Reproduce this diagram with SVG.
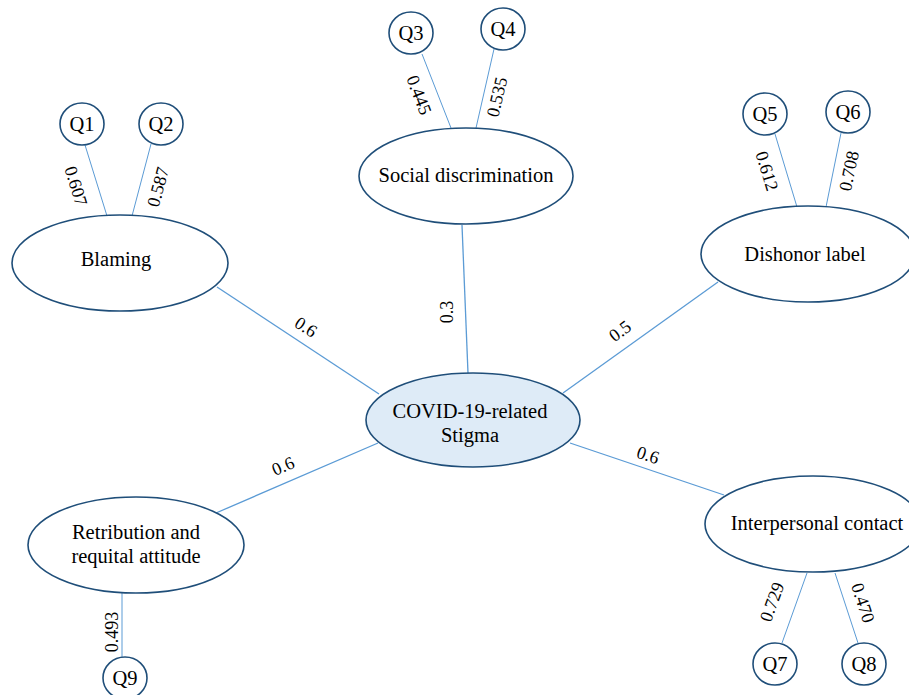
<svg xmlns="http://www.w3.org/2000/svg" width="909" height="695" viewBox="0 0 909 695">
<style>
.node{fill:#fff;stroke:#1f4e79;stroke-width:1.6}
.center{fill:#deebf7;stroke:#1f4e79;stroke-width:1.6}
.q{fill:#fff;stroke:#1f4e79;stroke-width:1.6}
.edge{stroke:#5b9bd5;stroke-width:1.3;fill:none}
.qe{stroke:#5b9bd5;stroke-width:1;fill:none}
text{font-family:"Liberation Serif","Times New Roman",serif;fill:#000}
.lbl{font-size:20.5px;text-anchor:middle}
.num{font-size:18px;text-anchor:middle;dominant-baseline:central}
</style>
<rect width="909" height="695" fill="#fff"/>
<g id="connectors">
<line class="edge" x1="217" y1="287" x2="379" y2="394"/>
<line class="edge" x1="462" y1="225" x2="468" y2="373"/>
<line class="edge" x1="718" y1="282" x2="563" y2="393"/>
<line class="edge" x1="724" y1="495" x2="570" y2="443"/>
<line class="edge" x1="216" y1="513" x2="378" y2="443"/>
<line class="qe" x1="85" y1="145" x2="107" y2="216"/>
<line class="qe" x1="151" y1="144" x2="132" y2="216"/>
<line class="qe" x1="422" y1="54" x2="451" y2="128"/>
<line class="qe" x1="494" y1="49" x2="476" y2="128"/>
<line class="qe" x1="775" y1="134" x2="797" y2="207"/>
<line class="qe" x1="841" y1="133" x2="826" y2="207"/>
<line class="qe" x1="807" y1="573" x2="782" y2="643"/>
<line class="qe" x1="835" y1="573" x2="858" y2="643"/>
<line class="qe" x1="122" y1="592" x2="122" y2="657"/>
<text class="num" transform="translate(306,327) rotate(33)">0.6</text>
<text class="num" transform="translate(447,312) rotate(-90)">0.3</text>
<text class="num" transform="translate(620,331) rotate(-36)">0.5</text>
<text class="num" transform="translate(283,466) rotate(-23)">0.6</text>
<text class="num" transform="translate(648,455) rotate(18)">0.6</text>
<text class="num" transform="translate(76,186) rotate(73)">0.607</text>
<text class="num" transform="translate(158,187) rotate(-75)">0.587</text>
<text class="num" transform="translate(419,95) rotate(69)">0.445</text>
<text class="num" transform="translate(497,97) rotate(-77)">0.535</text>
<text class="num" transform="translate(767,171) rotate(73)">0.612</text>
<text class="num" transform="translate(849,171) rotate(-78)">0.708</text>
<text class="num" transform="translate(772,602) rotate(-70)">0.729</text>
<text class="num" transform="translate(863,603) rotate(72)">0.470</text>
<text class="num" transform="translate(112,632) rotate(-90)">0.493</text>
</g>
<g id="center">
<ellipse class="center" cx="473" cy="420" rx="107" ry="47"/>
<text class="lbl" x="470" y="418">COVID-19-related</text>
<text class="lbl" x="470" y="442">Stigma</text>
</g>
<g id="blaming">
<ellipse class="node" cx="120" cy="263" rx="108" ry="48"/>
<text class="lbl" x="116" y="266">Blaming</text>
</g>
<g id="social">
<ellipse class="node" cx="466" cy="176" rx="107" ry="48"/>
<text class="lbl" x="466" y="182">Social discrimination</text>
</g>
<g id="dishonor">
<ellipse class="node" cx="808" cy="254" rx="107" ry="48"/>
<text class="lbl" x="805" y="261">Dishonor label</text>
</g>
<g id="interpersonal">
<ellipse class="node" cx="813" cy="524" rx="108" ry="48"/>
<text class="lbl" x="817" y="530">Interpersonal contact</text>
</g>
<g id="retribution">
<ellipse class="node" cx="136" cy="545" rx="108" ry="48"/>
<text class="lbl" x="136" y="539">Retribution and</text>
<text class="lbl" x="136" y="563">requital attitude</text>
</g>
<g id="q1"><ellipse class="q" cx="82" cy="124" rx="22" ry="21"/><text class="lbl" x="82" y="131">Q1</text></g>
<g id="q2"><ellipse class="q" cx="161" cy="124" rx="22" ry="21"/><text class="lbl" x="161" y="131">Q2</text></g>
<g id="q3"><ellipse class="q" cx="411" cy="33" rx="22" ry="21"/><text class="lbl" x="411" y="40">Q3</text></g>
<g id="q4"><ellipse class="q" cx="503" cy="29" rx="22" ry="21"/><text class="lbl" x="503" y="36">Q4</text></g>
<g id="q5"><ellipse class="q" cx="765" cy="114" rx="22" ry="21"/><text class="lbl" x="765" y="121">Q5</text></g>
<g id="q6"><ellipse class="q" cx="848" cy="112" rx="22" ry="21"/><text class="lbl" x="848" y="119">Q6</text></g>
<g id="q7"><ellipse class="q" cx="775" cy="664" rx="22" ry="21"/><text class="lbl" x="775" y="671">Q7</text></g>
<g id="q8"><ellipse class="q" cx="864" cy="664" rx="22" ry="21"/><text class="lbl" x="864" y="671">Q8</text></g>
<g id="q9"><ellipse class="q" cx="125" cy="678" rx="22" ry="21"/><text class="lbl" x="125" y="685">Q9</text></g>
</svg>
